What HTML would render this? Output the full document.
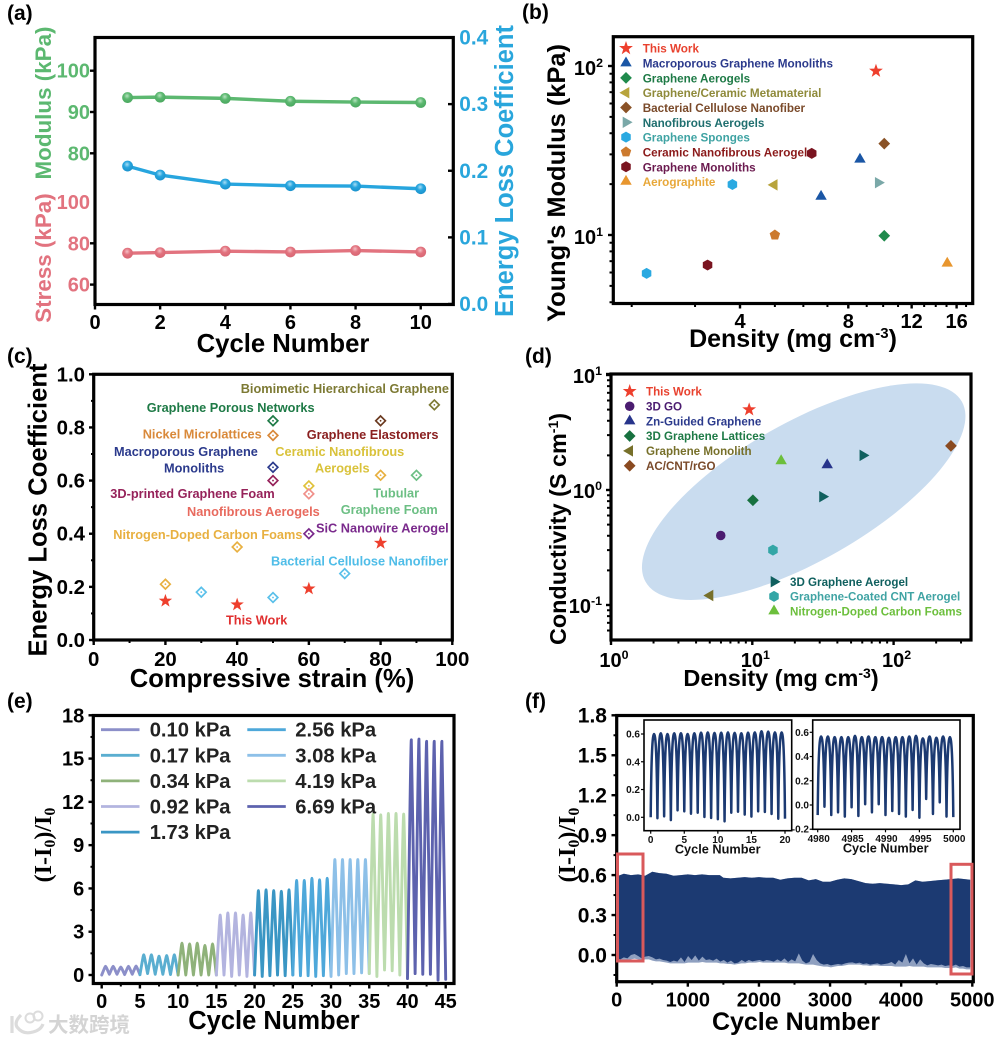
<!DOCTYPE html>
<html lang="en">
<head>
<meta charset="utf-8">
<title>Six-panel graphene aerogel performance figure</title>
<style>
html,body{margin:0;padding:0;background:#fff;}
svg{display:block;font-family:"Liberation Sans","Noto Sans CJK SC",sans-serif;font-weight:bold;}
</style>
</head>
<body>
<svg id="fig" width="1000" height="1042" viewBox="0 0 1000 1042" xmlns="http://www.w3.org/2000/svg">
<defs>
<radialGradient id="ballGreen" cx="45%" cy="35%" r="65%"><stop offset="0" stop-color="#b6e3bf"/><stop offset=".45" stop-color="#5cb870"/><stop offset="1" stop-color="#4aa85f"/></radialGradient>
<radialGradient id="ballBlue" cx="45%" cy="35%" r="65%"><stop offset="0" stop-color="#a9def5"/><stop offset=".45" stop-color="#27a5de"/><stop offset="1" stop-color="#1a92cc"/></radialGradient>
<radialGradient id="ballPink" cx="45%" cy="35%" r="65%"><stop offset="0" stop-color="#f5c0c6"/><stop offset=".45" stop-color="#e2737f"/><stop offset="1" stop-color="#d86673"/></radialGradient>
</defs>
<rect x="0" y="0" width="1000" height="1042" fill="#fff"/>

<!-- Panel a -->
<g id="panelA">
<text x="7" y="20" font-size="21">(a)</text>
<text transform="translate(51,103) rotate(-90)" text-anchor="middle" font-size="22.4" fill="#5cb870">Modulus (kPa)</text>
<text transform="translate(51,258) rotate(-90)" text-anchor="middle" font-size="22.4" fill="#e2737f">Stress (kPa)</text>
<text transform="translate(513,171) rotate(-90)" text-anchor="middle" font-size="25.5" fill="#29a6dc">Energy Loss Coefficient</text>
<text x="283" y="352" text-anchor="middle" font-size="25.7">Cycle Number</text>
</g>

<!-- Panel b -->
<g id="panelB">
<text x="522" y="19" font-size="21">(b)</text>
<text transform="translate(565,183) rotate(-90)" text-anchor="middle" font-size="25.4">Young's Modulus (kPa)</text>
<text x="793" y="347" text-anchor="middle" font-size="25">Density (mg cm<tspan dy="-9" font-size="15">-3</tspan><tspan dy="9">)</tspan></text>
<g font-size="11.7">
<text x="642.7" y="52.5" fill="#e8412e">This Work</text>
<text x="642.7" y="67.5" fill="#2b3a8c">Macroporous Graphene Monoliths</text>
<text x="642.7" y="82.3" fill="#1e7a46">Graphene Aerogels</text>
<text x="642.7" y="97.1" fill="#8f8a3a">Graphene/Ceramic Metamaterial</text>
<text x="642.7" y="111.9" fill="#7a4a2a">Bacterial Cellulose Nanofiber</text>
<text x="642.7" y="126.8" fill="#1f6f6f">Nanofibrous Aerogels</text>
<text x="642.7" y="141.7" fill="#3fa3a3">Graphene Sponges</text>
<text x="642.7" y="156.5" fill="#8b1a1a">Ceramic Nanofibrous Aerogel</text>
<text x="642.7" y="171.3" fill="#6b1a4f">Graphene Monoliths</text>
<text x="642.7" y="186" fill="#e8a83a">Aerographite</text>
</g>
</g>

<!-- Panel c -->
<g id="panelC">
<text x="7" y="363" font-size="21">(c)</text>
<text transform="translate(46.5,510) rotate(-90)" text-anchor="middle" font-size="25.6">Energy Loss Coefficient</text>
<text x="272" y="687" text-anchor="middle" font-size="25.6">Compressive strain (%)</text>
</g>

<!-- Panel d -->
<g id="panelD">
<text x="525" y="363" font-size="21">(d)</text>
<text transform="translate(566,529) rotate(-90)" text-anchor="middle" font-size="23.4">Conductivity (S cm<tspan dy="-8" font-size="14">-1</tspan><tspan dy="8">)</tspan></text>
<text x="781" y="686" text-anchor="middle" font-size="23.5">Density (mg cm<tspan dy="-8" font-size="14">-3</tspan><tspan dy="8">)</tspan></text>
<ellipse cx="803.7" cy="491.7" rx="182" ry="69" transform="rotate(-29.7 803.7 491.7)" fill="#c9dcef"/>
</g>

<!-- Panel e -->
<g id="panelE">
<text x="7" y="708" font-size="21">(e)</text>
<text transform="translate(51,845) rotate(-90)" text-anchor="middle" font-size="24" font-family="'Liberation Serif',serif">(I-I<tspan dy="4" font-size="16">0</tspan><tspan dy="-4">)/I</tspan><tspan dy="4" font-size="16">0</tspan></text>
<text x="274" y="1029" text-anchor="middle" font-size="25.5">Cycle Number</text>
</g>

<!-- Panel f -->
<g id="panelF">
<text x="525" y="708" font-size="21">(f)</text>
<text transform="translate(575,845) rotate(-90)" text-anchor="middle" font-size="24" font-family="'Liberation Serif',serif">(I-I<tspan dy="4" font-size="16">0</tspan><tspan dy="-4">)/I</tspan><tspan dy="4" font-size="16">0</tspan></text>
<text x="796" y="1030" text-anchor="middle" font-size="25">Cycle Number</text>
</g>

<!-- Watermark -->
<g>
<path d="M12 1016 v17 M21 1015 q-7 7 -4 12 q6 8 16 5 q8 -2 10 -8" fill="none" stroke="#dcdcdc" stroke-width="3.2"/>
<circle cx="30" cy="1018" r="4.5" fill="none" stroke="#dcdcdc" stroke-width="2"/>
<circle cx="38" cy="1016" r="4.5" fill="none" stroke="#dcdcdc" stroke-width="2"/>
<text x="48" y="1032" font-size="20.5" fill="#d4d4d4" font-family="'Noto Sans CJK SC',sans-serif">大数跨境</text>
</g>
</svg>

<script>
/* ---------- panel a data ---------- */
const aCycles = [1, 2, 4, 6, 8, 10];
const aModulus = [93.5, 93.6, 93.3, 92.6, 92.4, 92.3];
const aStress = [75.2, 75.5, 76.2, 75.8, 76.5, 75.8];
const aEnergy = [0.207, 0.1935, 0.18, 0.1775, 0.177, 0.173];
const aXTicks = [0, 2, 4, 6, 8, 10];
const aModulusTicks = [100, 90, 80];
const aStressTicks = [100, 80, 60];
const aEnergyTicks = [0.0, 0.1, 0.2, 0.3, 0.4];

/* ---------- panel b data ---------- */
const bDensity = [9.55, 8.62, 6.72, 10.07, 4.98, 10.07, 9.69, 3.81, 2.2, 5.0, 6.33, 3.25, 15.07];
const bYoung = [93.4, 28.05, 16.9, 9.9, 19.8, 34.7, 20.4, 19.9, 5.93, 10, 30.4, 6.64, 6.8];
const bKinds = ['star', 'triUp', 'triUp', 'diamond', 'triLeft', 'diamond', 'triRight', 'hex', 'hex', 'pent', 'hex', 'hex', 'triUp'];
const bXTicks = [4, 8, 12, 16];
const bXMinor = [2, 3, 5, 6, 7, 9, 10, 11, 13, 14, 15, 17];
const bYTicks = [10, 100];
const bYMinor = [4, 5, 6, 7, 8, 9, 20, 30, 40, 50, 60, 70, 80, 90];
const bColors = ['#ee3f2d', '#1a56a5', '#1a56a5', '#1f8a4c', '#b8a43c', '#8a5226', '#7aa8a8', '#2aa9e1', '#2aa9e1', '#cc7a2e', '#7a1420', '#7a1420', '#e8962e'];
const bLegendKinds = ['star', 'triUp', 'diamond', 'triLeft', 'diamond', 'triRight', 'hex', 'pent', 'hex', 'triUp'];
const bLegendColors = ['#ee3f2d', '#1a56a5', '#1f8a4c', '#b8a43c', '#8a5226', '#7aa8a8', '#2aa9e1', '#cc7a2e', '#7a1420', '#e8962e'];

/* ---------- panel c data ---------- */
const cStrain = [95, 50, 80, 50, 50, 50, 60, 80, 90, 60, 60, 40, 20, 30, 50, 70];
const cLoss = [0.885, 0.825, 0.825, 0.77, 0.65, 0.6, 0.58, 0.62, 0.62, 0.55, 0.4, 0.35, 0.21, 0.18, 0.16, 0.25];
const cColors = ['#7d7a34', '#1e7a46', '#6b3a20', '#d9893a', '#2b3a8c', '#96225a', '#e0c23a', '#e8b040', '#6cbf84', '#f0908a', '#7a2a8c', '#e8b040', '#e8b040', '#5ac0ea', '#5ac0ea', '#5ac0ea'];
const cWorkStrain = [20, 40, 60, 80];
const cWorkLoss = [0.147, 0.133, 0.193, 0.365];
const cXTicks = [0, 20, 40, 60, 80, 100];
const cXMinor = [10, 30, 50, 70, 90];
const cYTicks = [0.0, 0.2, 0.4, 0.6, 0.8, 1.0];
const cYMinor = [0.1, 0.3, 0.5, 0.7, 0.9];
const cAnnotations = ['Biomimetic Hierarchical Graphene', 'Graphene Porous Networks', 'Nickel Microlattices', 'Graphene Elastomers', 'Macroporous Graphene', 'Monoliths', 'Ceramic Nanofibrous', 'Aerogels', '3D-printed Graphene Foam', 'Tubular', 'Graphene Foam', 'Nanofibrous Aerogels', 'SiC Nanowire Aerogel', 'Nitrogen-Doped Carbon Foams', 'Bacterial Cellulose Nanofiber', 'This Work'];

/* ---------- panel d data ---------- */
const dDensity = [9.5, 5.98, 33.9, 10.1, 5.02, 254.6, 60.6, 31.4, 14, 16];
const dConductivity = [5.0, 0.402, 1.65, 0.814, 0.121, 2.42, 2.0, 0.875, 0.3, 1.79];
const dKinds = ['star', 'circle', 'triUp', 'diamond', 'triLeft', 'diamond', 'triRight', 'triRight', 'hex', 'triUp'];
const dColors = ['#ee3f2d', '#4b1c70', '#27348b', '#17713f', '#77702a', '#8a4a20', '#10605f', '#10605f', '#33a6a6', '#6cbf3c'];
const dXMinor = [2, 3, 4, 5, 6, 7, 8, 9, 20, 30, 40, 50, 60, 70, 80, 90, 200, 300];
const dYMinor = [0.06, 0.07, 0.08, 0.09, 0.2, 0.3, 0.4, 0.5, 0.6, 0.7, 0.8, 0.9, 2, 3, 4, 5, 6, 7, 8, 9];
const dExps = [-1, 0, 1];
const dXExps = [0, 1, 2];
const dLegendKinds = ['star', 'circle', 'triUp', 'diamond', 'triLeft', 'diamond'];
const dLegendColors = ['#ee3f2d', '#4b1c70', '#27348b', '#17713f', '#77702a', '#8a4a20'];
const dLegendLabels = ['This Work', '3D GO', 'Zn-Guided Graphene', '3D Graphene Lattices', 'Graphene Monolith', 'AC/CNT/rGO'];
const dLegendTextColors = ['#e8412e', '#4b1c70', '#2b3a8c', '#1e7a46', '#77702a', '#7a4a2a'];
const dLegend2Kinds = ['triRight', 'hex', 'triUp'];
const dLegend2Colors = ['#10605f', '#33a6a6', '#6cbf3c'];
const dLegend2Labels = ['3D Graphene Aerogel', 'Graphene-Coated CNT Aerogel', 'Nitrogen-Doped Carbon Foams'];
const dLegend2TextColors = ['#10605f', '#3fa3a3', '#6cbf3c'];

/* ---------- panel e data: alternating valley, peak, ... ---------- */
const ePressures = ['0.10 kPa', '0.17 kPa', '0.34 kPa', '0.92 kPa', '1.73 kPa', '2.56 kPa', '3.08 kPa', '4.19 kPa', '6.69 kPa'];
const eS010 = [0, 0.6, 0.05, 0.6, 0.05, 0.55, 0.03, 0.6, 0.05, 0.62, 0.02];
const eS017 = [0.02, 1.4, 0.1, 1.4, 0.05, 1.3, 0.05, 1.35, 0.03, 1.4, 0];
const eS034 = [0, 2.2, 0, 2.15, 0, 2.2, 0, 2.05, 0, 2.15, 0];
const eS092 = [0, 4.15, 0, 4.3, -0.1, 4.3, 0, 4.15, -0.1, 4.3, 0];
const eS173 = [0, 5.85, -0.1, 5.9, -0.05, 5.85, 0, 5.8, -0.05, 5.9, 0];
const eS256 = [0, 6.55, -0.05, 6.55, -0.05, 6.7, -0.1, 6.6, -0.05, 6.7, 0];
const eS308 = [-0.1, 8, 0, 8, 0.1, 8, 0.1, 8, 0.15, 8, 0.1];
const eS419 = [0.1, 11.15, -0.1, 11.1, 0.35, 11.2, 0.3, 11.2, 0, 11.15, -0.1];
const eS669 = [-0.25, 16.3, 0.1, 16.35, 0.05, 16.2, 0.05, 16.2, -0.35, 16.2, -0.3];
const eSeries = [eS010, eS017, eS034, eS092, eS173, eS256, eS308, eS419, eS669];
const eColors = ['#8c8fc9', '#5aaed0', '#8fb27a', '#b3b4df', '#3a96c4', '#4ea8da', '#8dc0e8', '#bcdcae', '#5d62ae'];
const eXTicks = [0, 5, 10, 15, 20, 25, 30, 35, 40, 45];
const eXMinor = [2.5, 7.5, 12.5, 17.5, 22.5, 27.5, 32.5, 37.5, 42.5];
const eYTicks = [0, 3, 6, 9, 12, 15, 18];
const eYMinor = [1.5, 4.5, 7.5, 10.5, 13.5, 16.5];

/* ---------- panel f data ---------- */
const fCycles = [0,100,200,300,400,500,600,700,800,900,1000,1100,1200,1300,1400,1450,1500,1600,1700,1800,1900,2000,2100,2200,2300,2400,2500,2600,2700,2800,2900,3000,3100,3200,3300,3400,3500,3600,3700,3800,3900,4000,4100,4200,4300,4400,4500,4600,4700,4800,4970];
const fUpper = [0.59,0.61,0.6,0.605,0.595,0.625,0.615,0.61,0.595,0.6,0.605,0.6,0.605,0.6,0.6,0.6,0.58,0.575,0.58,0.585,0.58,0.585,0.58,0.58,0.565,0.575,0.58,0.58,0.56,0.57,0.55,0.55,0.565,0.575,0.57,0.555,0.54,0.535,0.54,0.535,0.53,0.525,0.53,0.56,0.55,0.555,0.56,0.565,0.57,0.575,0.565];
const fLowerSolid = [-0.025,-0.0325,-0.0175,-0.025,0,0.0075,-0.0075,-0.025,-0.0125,-0.0075,
-0.0175,-0.0325,-0.0275,-0.0375,-0.0425,-0.0525,-0.0425,-0.05,-0.0175,-0.0525,
-0.0075,-0.0375,-0.0025,-0.0425,-0.0125,-0.0375,-0.0325,-0.0425,-0.0275,-0.05,
-0.0375,-0.0575,-0.0425,-0.0625,-0.0575,-0.0375,-0.0525,-0.0375,-0.0475,-0.0425,
-0.0375,-0.0475,-0.0375,-0.0425,-0.05,-0.0325,-0.0475,-0.025,-0.0525,-0.0325,
-0.0475,0.0125,-0.0425,-0.0625,-0.0525,0.0075,-0.0375,-0.0625,-0.0725,-0.0675,
-0.0775,-0.0725,-0.0675,-0.0725,-0.0625,-0.0575,-0.055,-0.0625,-0.0575,-0.0675,
-0.0625,-0.0725,-0.0675,-0.0625,-0.0725,-0.0675,-0.0625,-0.0525,-0.0725,-0.0375,
-0.0575,0.0075,-0.0625,-0.025,-0.0725,-0.0325,-0.0625,-0.0775,-0.0675,-0.0725,
-0.0775,-0.0725,-0.0825,-0.0775,-0.0825,-0.0725,-0.0875,-0.0825,-0.0925,-0.0925];
const fLowerFaint = [-0.0425,-0.0425,-0.0375,-0.0375,-0.0325,-0.0275,-0.0325,-0.0375,-0.0325,-0.0325,
-0.0425,-0.0475,-0.0475,-0.0525,-0.0575,-0.0625,-0.0625,-0.0625,-0.0625,-0.0625,
-0.0575,-0.0575,-0.0575,-0.0575,-0.0525,-0.0575,-0.0575,-0.0575,-0.0575,-0.0625,
-0.0625,-0.0675,-0.0675,-0.0725,-0.0675,-0.0625,-0.0625,-0.0575,-0.0575,-0.0575,
-0.0525,-0.0575,-0.0575,-0.0575,-0.0575,-0.0575,-0.0575,-0.0575,-0.0625,-0.0625,
-0.0625,-0.0625,-0.0675,-0.0725,-0.0725,-0.0725,-0.0775,-0.0825,-0.0875,-0.0875,
-0.0925,-0.0875,-0.0825,-0.0825,-0.0775,-0.0725,-0.0725,-0.0725,-0.0725,-0.0775,
-0.0775,-0.0825,-0.0775,-0.0775,-0.0825,-0.0825,-0.0825,-0.0825,-0.0875,-0.0875,
-0.0875,-0.0875,-0.0825,-0.0875,-0.0875,-0.0875,-0.0875,-0.0925,-0.0925,-0.0925,
-0.0925,-0.0925,-0.0975,-0.0975,-0.0975,-0.0925,-0.1025,-0.1025,-0.1075,-0.1075];
const fXTicks = [0, 1000, 2000, 3000, 4000, 5000];
const fXMinor = [500, 1500, 2500, 3500, 4500];
const fYTicks = [0.0, 0.3, 0.6, 0.9, 1.2, 1.5, 1.8];
const fYMinor = [-0.15, 0.15, 0.45, 0.75, 1.05, 1.35, 1.65];
const inset1Wave = [0,0.6,-0.007,0.605,0.007,0.6,-0.02,0.605,0.05,0.605,0.043,0.6,0.026,0.605,0.033,0.61,0.002,0.612,-0.005,0.608,-0.014,0.61,-0.029,0.612,0.033,0.608,0.04,0.605,0.019,0.61,0.005,0.612,0.043,0.62,0.038,0.617,0.024,0.612,-0.01,0.612,-0.01];
const inset2Wave = [-0.083,0.565,-0.014,0.565,-0.083,0.56,-0.061,0.56,-0.096,0.56,-0.019,0.57,-0.091,0.56,0.006,0.565,-0.061,0.56,0.006,0.56,-0.083,0.555,-0.05,0.56,-0.074,0.56,-0.096,0.565,-0.041,0.57,-0.105,0.55,0.05,0.565,-0.074,0.555,0.022,0.565,-0.096,0.56,-0.1];
const inset1XTicks = [0, 5, 10, 15, 20];
const inset1YTicks = [0.0, 0.2, 0.4, 0.6];
const inset2XTicks = [4980, 4985, 4990, 4995, 5000];
const inset2YTicks = [-0.2, 0.0, 0.2, 0.4, 0.6];

/* ---------- helpers ---------- */
const SVGNS = 'http://www.w3.org/2000/svg';
function mk(tag, attrs, parent, name) {
  const el = document.createElementNS(SVGNS, tag);
  for (const k in attrs) el.setAttribute(k, attrs[k]);
  
  
  parent.appendChild(el);
  return el;
}
function lin(d0, d1, p0, p1) { return v => p0 + (v - d0) / (d1 - d0) * (p1 - p0); }
function logS(d0, d1, p0, p1) { return v => p0 + (Math.log10(v) - Math.log10(d0)) / (Math.log10(d1) - Math.log10(d0)) * (p1 - p0); }
function tickH(g, y, x0, len, w, name) { mk('line', {x1: x0, x2: x0 + len, y1: y, y2: y, stroke: '#000', 'stroke-width': w}, g, name); }
function tickV(g, x, y0, len, w, name) { mk('line', {x1: x, x2: x, y1: y0, y2: y0 + len, stroke: '#000', 'stroke-width': w}, g, name); }
function label(g, str, x, y, size, anchor, fill, name) {
  const t = mk('text', {x: x, y: y, 'font-size': size, 'text-anchor': anchor, fill: fill}, g, name);
  t.textContent = str;
  return t;
}
function powLabel(g, exp, x, y, size, anchor, name) {
  const t = mk('text', {x: x, y: y, 'font-size': size, 'text-anchor': anchor, fill: '#000'}, g, name);
  t.appendChild(document.createTextNode('10'));
  const s = document.createElementNS(SVGNS, 'tspan');
  s.setAttribute('dy', '-8');
  s.setAttribute('font-size', size * 0.62);
  s.textContent = String(exp);
  t.appendChild(s);
  return t;
}
function frame(g, x0, y0, x1, y1, w, name) {
  mk('rect', {x: x0, y: y0, width: x1 - x0, height: y1 - y0, fill: 'none', stroke: '#000', 'stroke-width': w}, g, name);
}
function polyPoints(k, cx, cy, r) {
  const pts = [];
  const add = (n, rot, rr) => { for (let i = 0; i < n; i++) { const a = rot + i * 2 * Math.PI / n; const q = rr[i % rr.length]; pts.push((cx + q * Math.cos(a)).toFixed(2) + ',' + (cy + q * Math.sin(a)).toFixed(2)); } };
  if (k === 'star') add(10, -Math.PI / 2, [r * 1.3, r * 0.52]);
  if (k === 'triUp') add(3, -Math.PI / 2, [r * 1.18]);
  if (k === 'triLeft') add(3, Math.PI, [r * 1.18]);
  if (k === 'triRight') add(3, 0, [r * 1.18]);
  if (k === 'diamond') add(4, 0, [r * 1.05]);
  if (k === 'hex') add(6, Math.PI / 2, [r * 0.98]);
  if (k === 'pent') add(5, -Math.PI / 2, [r * 0.98]);
  return pts.join(' ');
}
function marker(g, kind, cx, cy, r, fill, name) {
  if (kind === 'circle') return mk('circle', {cx: cx, cy: cy, r: r * 0.85, fill: fill}, g, name);
  return mk('polygon', {points: polyPoints(kind, cx, cy, r), fill: fill}, g, name);
}
function wavePath(vals, x0, step, sx, sy) {
  let d = 'M' + sx(x0).toFixed(2) + ' ' + sy(vals[0]).toFixed(2);
  for (let i = 1; i < vals.length; i++) {
    const xa = sx(x0 + (i - 1) * step), xb = sx(x0 + i * step), ya = sy(vals[i - 1]), yb = sy(vals[i]), dx = xb - xa;
    if (i % 2 === 1) {
      d += 'C' + (xa + 0.18 * dx).toFixed(2) + ' ' + (ya + 0.78 * (yb - ya)).toFixed(2) + ' ' + (xa + 0.55 * dx).toFixed(2) + ' ' + yb.toFixed(2) + ' ' + xb.toFixed(2) + ' ' + yb.toFixed(2);
    } else {
      d += 'C' + (xa + 0.45 * dx).toFixed(2) + ' ' + ya.toFixed(2) + ' ' + (xb - 0.18 * dx).toFixed(2) + ' ' + (yb + 0.78 * (ya - yb)).toFixed(2) + ' ' + xb.toFixed(2) + ' ' + yb.toFixed(2);
    }
  }
  return d;
}
function zigPath(vals, x0, step, sx, sy) {
  let d = 'M' + sx(x0).toFixed(2) + ' ' + sy(vals[0]).toFixed(2);
  for (let i = 1; i < vals.length; i++) {
    const xa = sx(x0 + (i - 1) * step), xb = sx(x0 + i * step), ya = sy(vals[i - 1]), yb = sy(vals[i]), dx = xb - xa;
    if (i % 2 === 1) {
      d += 'C' + (xa + 0.3 * dx).toFixed(2) + ' ' + (ya + 0.3 * (yb - ya)).toFixed(2) + ' ' + (xb - 0.14 * dx).toFixed(2) + ' ' + yb.toFixed(2) + ' ' + xb.toFixed(2) + ' ' + yb.toFixed(2);
    } else {
      d += 'C' + (xa + 0.14 * dx).toFixed(2) + ' ' + ya.toFixed(2) + ' ' + (xb - 0.3 * dx).toFixed(2) + ' ' + (yb + 0.3 * (ya - yb)).toFixed(2) + ' ' + xb.toFixed(2) + ' ' + yb.toFixed(2);
    }
  }
  return d;
}
function linePath(xs, ys, sx, sy) {
  return xs.map((x, i) => (i ? 'L' : 'M') + sx(x).toFixed(2) + ' ' + sy(ys[i]).toFixed(2)).join('');
}

/* ---------- panel a ---------- */
(function () {
  const g = document.getElementById('panelA');
  const sx = lin(0, 11, 95, 453.3);
  const sMod = lin(90, 100, 112, 70.7);
  const sStr = lin(80, 100, 243.3, 202);
  const sEn = lin(0, 0.4, 304, 37.5);
  frame(g, 95, 37.5, 453.3, 304.5, 3.2, 'plot-frame-a');
  aXTicks.forEach(v => { tickV(g, sx(v), 304.5, 5, 2.4, 'x-tick-a'); label(g, String(v), sx(v), 329, 20, 'middle', '#000', 'x-tick-label-a'); });
  aModulusTicks.forEach(v => { tickH(g, sMod(v), 90, 5, 2.4, 'modulus-tick'); label(g, String(v), 90, sMod(v) + 7, 20, 'end', '#5cb870', 'modulus-tick-label'); });
  aStressTicks.forEach(v => { if (v !== 100) tickH(g, sStr(v), 90, 5, 2.4, 'stress-tick'); label(g, String(v), 90, sStr(v) + 7, 20, 'end', '#e2737f', 'stress-tick-label'); });
  aEnergyTicks.forEach(v => { tickH(g, sEn(v), 448, 5, 2.4, 'energy-tick'); label(g, v.toFixed(1), 459.3, sEn(v) + 7, 20.8, 'start', '#29a6dc', 'energy-tick-label'); });
  [[aModulus, sMod, '#5cb870', 'url(#ballGreen)', 'modulus'], [aEnergy, sEn, '#27a5de', 'url(#ballBlue)', 'energy-loss'], [aStress, sStr, '#e2737f', 'url(#ballPink)', 'stress']].forEach(s => {
    mk('path', {d: linePath(aCycles, s[0], sx, s[1]), fill: 'none', stroke: s[2], 'stroke-width': 3.4}, g, s[4] + '-line');
    aCycles.forEach((c, i) => mk('circle', {cx: sx(c), cy: s[1](s[0][i]), r: 5.4, fill: s[3]}, g, s[4] + '-point'));
  });
})();

/* ---------- panel b ---------- */
(function () {
  const g = document.getElementById('panelB');
  const sx = logS(4, 8, 740, 848.3);
  const sy = logS(10, 100, 235, 66);
  bYMinor.forEach(v => tickH(g, sy(v), 609.5, 4, 2, 'y-minor-tick-b'));
  bXMinor.forEach(v => tickV(g, sx(v), 303.5, 3.5, 2, 'x-minor-tick-b'));
  frame(g, 613.3, 36.7, 972.7, 303.5, 3.2, 'plot-frame-b');
  bXTicks.forEach(v => { tickV(g, sx(v), 303.5, 5, 2.4, 'x-tick-b'); label(g, String(v), sx(v), 328, 20, 'middle', '#000', 'x-tick-label-b'); });
  bYTicks.forEach(v => { tickH(g, sy(v), 608, 5, 2.4, 'y-tick-b'); powLabel(g, Math.log10(v), 603, sy(v) + 9, 20, 'end', 'y-tick-label-b'); });
  bDensity.forEach((x, i) => marker(g, bKinds[i], sx(x), sy(bYoung[i]), 5.6, bColors[i], 'point-b'));
  bLegendKinds.forEach((k, i) => marker(g, k, 626, 48.3 + i * 14.8, 5.6, bLegendColors[i], 'legend-marker-b'));
})();

/* ---------- panel c ---------- */
(function () {
  const g = document.getElementById('panelC');
  const sx = lin(0, 100, 93.7, 452.3);
  const sy = lin(0, 1, 640, 374.3);
  frame(g, 93.7, 374.3, 452.3, 640, 3.2, 'plot-frame-c');
  cXTicks.forEach(v => { tickV(g, sx(v), 640, 5, 2.4, 'x-tick-c'); label(g, String(v), sx(v), 666, 20.4, 'middle', '#000', 'x-tick-label-c'); });
  cXMinor.forEach(v => tickV(g, sx(v), 640, 3, 2, 'x-minor-tick-c'));
  cYTicks.forEach(v => { tickH(g, sy(v), 89, 5, 2.4, 'y-tick-c'); label(g, v.toFixed(1), 85, sy(v) + 7, 20.4, 'end', '#000', 'y-tick-label-c'); });
  cYMinor.forEach(v => tickH(g, sy(v), 91, 3, 2, 'y-minor-tick-c'));
  cStrain.forEach((x, i) => {
    const cx = sx(x), cy = sy(cLoss[i]);
    mk('polygon', {points: polyPoints('diamond', cx, cy, 4.6), fill: '#fff', stroke: cColors[i], 'stroke-width': 1.7}, g, 'open-diamond-point');
    mk('circle', {cx: cx, cy: cy, r: 0.9, fill: cColors[i]}, g, 'open-diamond-center');
  });
  cWorkStrain.forEach((x, i) => marker(g, 'star', sx(x), sy(cWorkLoss[i]), 5.4, '#ee3f2d', 'this-work-star'));
  const pos = [[240.7, 388.7, '#7d7a34'], [146.7, 407.7, '#1e7a46'], [142.7, 434, '#d9893a'], [306.7, 434.7, '#8a2020'], [114, 451.7, '#2b3a8c'], [164, 468, '#2b3a8c'], [275.3, 451.7, '#d9c23a'], [315, 468, '#d9c23a'], [110.3, 493.7, '#96225a'], [373.3, 493, '#6cbf84'], [340.7, 509.3, '#6cbf84'], [187, 511.3, '#e86a5e'], [316, 528, '#7a2a8c'], [113.3, 534.3, '#e8b040'], [271, 561, '#4fbde8'], [226, 620, '#e03030']];
  cAnnotations.forEach((s, i) => label(g, s, pos[i][0], pos[i][1] + 4.5, 12.75, 'start', pos[i][2], 'material-label'));
})();

/* ---------- panel d ---------- */
(function () {
  const g = document.getElementById('panelD');
  const sx = logS(1, 10, 611, 752.3);
  const sy = logS(0.1, 1, 605, 490);
  dYMinor.forEach(v => tickH(g, sy(v), 607, 4, 2, 'y-minor-tick-d'));
  dXMinor.forEach(v => tickV(g, sx(v), 640, 3.5, 2, 'x-minor-tick-d'));
  frame(g, 611, 374, 971, 640, 3.2, 'plot-frame-d');
  dXExps.forEach(e => { tickV(g, sx(Math.pow(10, e)), 640, 5, 2.4, 'x-tick-d'); powLabel(g, e, sx(Math.pow(10, e)) + 3, 667, 20, 'middle', 'x-tick-label-d'); });
  dExps.forEach(e => { tickH(g, sy(Math.pow(10, e)), 606, 5, 2.4, 'y-tick-d'); powLabel(g, e, 602, sy(Math.pow(10, e)) + 8, 20, 'end', 'y-tick-label-d'); });
  tickH(g, 374, 606, 5, 2.4, 'y-tick-d');
  dDensity.forEach((x, i) => marker(g, dKinds[i], sx(x), sy(dConductivity[i]), 5.6, dColors[i], 'point-d'));
  dLegendKinds.forEach((k, i) => {
    marker(g, k, 629.7, 391.3 + i * 14.9, 5.6, dLegendColors[i], 'legend-marker-d');
    label(g, dLegendLabels[i], 646, 395.5 + i * 14.9, 11.6, 'start', dLegendTextColors[i], 'legend-entry-d');
  });
  dLegend2Kinds.forEach((k, i) => {
    marker(g, k, 774, 581.7 + i * 14.7, 5.6, dLegend2Colors[i], 'legend-marker-d');
    label(g, dLegend2Labels[i], 790, 586 + i * 14.7, 11.6, 'start', dLegend2TextColors[i], 'legend-entry-d');
  });
})();

/* ---------- panel e ---------- */
(function () {
  const g = document.getElementById('panelE');
  const sx = lin(0, 45, 101.7, 445.7);
  const sy = lin(0, 18, 975, 715.3);
  eSeries.forEach((s, i) => {
    mk('path', {d: zigPath(s, i * 5, 0.5, sx, sy), fill: 'none', stroke: eColors[i], 'stroke-width': 2.9, 'stroke-linecap': 'round', 'stroke-linejoin': 'round'}, g, 'response-curve-' + ePressures[i].split(' ')[0]);
  });
  mk('rect', {x: 94, y: 983.5, width: 360, height: 10, fill: '#fff'}, g, 'axis-mask-e');
  frame(g, 93.3, 715.5, 454, 983.5, 3.2, 'plot-frame-e');
  eXTicks.forEach(v => { tickV(g, sx(v), 983.5, 5, 2.4, 'x-tick-e'); label(g, String(v), sx(v), 1008, 20, 'middle', '#000', 'x-tick-label-e'); });
  eXMinor.forEach(v => tickV(g, sx(v), 983.5, 3, 2, 'x-minor-tick-e'));
  eYTicks.forEach(v => { tickH(g, sy(v), 88.5, 5, 2.4, 'y-tick-e'); label(g, String(v), 84.3, sy(v) + 7, 20, 'end', '#000', 'y-tick-label-e'); });
  eYMinor.forEach(v => tickH(g, sy(v), 90.5, 3, 2, 'y-minor-tick-e'));
  ePressures.forEach((p, i) => {
    const col = i < 5 ? 0 : 1, row = i < 5 ? i : i - 5;
    const lx = col ? 247.3 : 101, tx = col ? 295.3 : 149.7, ly = 729.7 + row * 25.6;
    mk('line', {x1: lx, x2: lx + 38.5, y1: ly, y2: ly, stroke: eColors[i], 'stroke-width': 2.8}, g, 'legend-line-e');
    label(g, p, tx, ly + 7, 20.2, 'start', '#222', 'legend-entry-e');
  });
})();

/* ---------- panel f ---------- */
(function () {
  const g = document.getElementById('panelF');
  const sx = lin(0, 5000, 616.7, 972.3);
  const sy = lin(0, 1.8, 955, 715.3);
  function band(lower) {
    let d = '';
    fCycles.forEach((c, i) => { d += (i ? 'L' : 'M') + sx(c).toFixed(2) + ' ' + sy(fUpper[i]).toFixed(2); });
    for (let i = lower.length - 1; i >= 0; i--) d += 'L' + sx(i * 50.2).toFixed(2) + ' ' + sy(lower[i]).toFixed(2);
    return d + 'Z';
  }
  mk('path', {d: band(fLowerFaint), fill: '#8fa0c0'}, g, 'cycling-response-noise');
  mk('path', {d: band(fLowerSolid), fill: '#1c3a72'}, g, 'cycling-response-band');
  frame(g, 616.7, 715.5, 973.3, 981.7, 3.2, 'plot-frame-f');
  fXTicks.forEach(v => { tickV(g, sx(v), 981.7, 5, 2.4, 'x-tick-f'); label(g, String(v), sx(v), 1006.7, 20, 'middle', '#000', 'x-tick-label-f'); });
  fXMinor.forEach(v => tickV(g, sx(v), 981.7, 3, 2, 'x-minor-tick-f'));
  fYTicks.forEach(v => { tickH(g, sy(v), 611.5, 5, 2.4, 'y-tick-f'); label(g, v.toFixed(1), 607, sy(v) + 7.4, 21, 'end', '#000', 'y-tick-label-f'); });
  fYMinor.forEach(v => tickH(g, sy(v), 613.5, 3, 2, 'y-minor-tick-f'));
  mk('rect', {x: 617.5, y: 854, width: 25.5, height: 107, fill: 'none', stroke: '#d9595b', 'stroke-width': 3}, g, 'highlight-box-start');
  mk('rect', {x: 951, y: 864.3, width: 21, height: 109.7, fill: 'none', stroke: '#d9595b', 'stroke-width': 3}, g, 'highlight-box-end');

  /* inset 1 */
  const i1x = lin(0, 20, 650.7, 785), i1y = lin(0, 0.6, 817.3, 734);
  mk('rect', {x: 644, y: 720, width: 147.7, height: 110.7, fill: '#fff', stroke: 'none'}, g, 'inset-start-background');
  mk('path', {d: wavePath(inset1Wave, 0, 0.5, i1x, i1y), fill: 'none', stroke: '#1c3a72', 'stroke-width': 2.5, 'stroke-linejoin': 'round'}, g, 'inset-start-curve');
  frame(g, 644, 720, 791.7, 830.7, 1.6, 'inset-start-frame');
  inset1XTicks.forEach(v => { tickV(g, i1x(v), 830.7, 3, 1.2, 'inset-start-x-tick'); label(g, String(v), i1x(v), 843, 10, 'middle', '#111', 'inset-start-x-tick-label'); });
  inset1YTicks.forEach(v => { tickH(g, i1y(v), 641, 3, 1.2, 'inset-start-y-tick'); label(g, v.toFixed(1), 640, i1y(v) + 3.5, 10, 'end', '#111', 'inset-start-y-tick-label'); });
  label(g, 'Cycle Number', 717.7, 853.3, 12.75, 'middle', '#111', 'inset-start-x-title');

  /* inset 2 */
  const i2x = lin(4980, 5000, 817.7, 953.3), i2y = lin(0, 0.6, 805, 732.3);
  mk('rect', {x: 812.7, y: 720, width: 147.3, height: 109.3, fill: '#fff', stroke: 'none'}, g, 'inset-end-background');
  mk('path', {d: wavePath(inset2Wave, 4980, 0.5, i2x, i2y), fill: 'none', stroke: '#1c3a72', 'stroke-width': 2.5, 'stroke-linejoin': 'round'}, g, 'inset-end-curve');
  frame(g, 812.7, 720, 960, 829.3, 1.6, 'inset-end-frame');
  inset2XTicks.forEach(v => { tickV(g, i2x(v), 829.3, 3, 1.2, 'inset-end-x-tick'); label(g, String(v), i2x(v) + 1, 842, 10, 'middle', '#111', 'inset-end-x-tick-label'); });
  inset2YTicks.forEach(v => { tickH(g, i2y(v), 809.7, 3, 1.2, 'inset-end-y-tick'); label(g, v.toFixed(1), 809, i2y(v) + 3.5, 10, 'end', '#111', 'inset-end-y-tick-label'); });
  label(g, 'Cycle Number', 885.7, 852.3, 12.75, 'middle', '#111', 'inset-end-x-title');
})();
</script>
</body>
</html>
